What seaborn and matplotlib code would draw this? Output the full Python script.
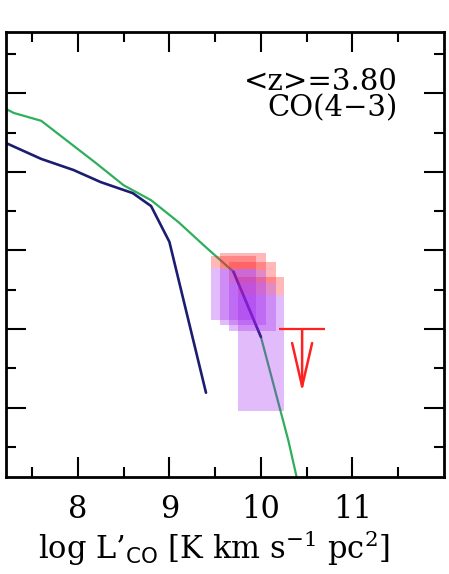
import numpy as np
import pandas as pd
import matplotlib
matplotlib.use("Agg")
import matplotlib.pyplot as plt
import seaborn as sns

# ---- data ----
green_x = [7.0, 7.3, 7.6, 7.9, 8.2, 8.5, 8.8, 9.1, 9.4, 9.7, 10.0, 10.3, 10.6]
green_y = [-1.07, -1.25, -1.35, -1.62, -1.89, -2.17, -2.36, -2.64, -2.96, -3.27, -4.10, -5.42, -6.96]

navy_x = [7.2, 7.6, 7.95, 8.25, 8.6, 8.8, 9.0, 9.4]
navy_y = [-1.625, -1.835, -1.975, -2.13, -2.27, -2.435, -2.89, -4.81]

navy2_x = [9.7, 10.0]
navy2_y = [-3.27, -4.10]

box_x_lo = [9.45, 9.55, 9.65, 9.75]
box_x_hi = [9.95, 10.06, 10.16, 10.25]
red_top = [-3.07, -3.03, -3.15, -3.34]
red_bot = [-3.22, -3.25, -3.41, -3.57]
purple_bot = [-3.88, -3.95, -4.02, -5.04]

lim_x = 10.45
lim_xerr = 0.255
lim_y = -4.0
lim_arrow_to = -4.80

x_major = [8, 9, 10, 11]
x_major_labels = ["8", "9", "10", "11"]

label_text = "<z>=3.80\nCO(4\u22123)"

# ---- style ----
sns.set_theme(style="ticks")
plt.rcParams["font.family"] = ["DejaVu Serif"]
plt.rcParams["mathtext.fontset"] = "dejavuserif"
plt.rcParams["text.color"] = "black"
plt.rcParams["axes.labelcolor"] = "black"
plt.rcParams["xtick.color"] = "black"
plt.rcParams["ytick.color"] = "black"

fig = plt.figure(figsize=(4.49, 5.74), dpi=100)
ax = fig.add_axes([6/449, 97/574, 438/449, 445/574])

GREEN = "#2fae5c"
NAVY = "#1c1c70"
RED = "#ff2020"
PURPLE = "#a020f0"

df_g = pd.DataFrame({"x": green_x, "y": green_y})
df_n = pd.DataFrame({"x": navy_x, "y": navy_y})
df_n2 = pd.DataFrame({"x": navy2_x, "y": navy2_y})

sns.lineplot(data=df_g, x="x", y="y", ax=ax, color=GREEN, lw=1.6,
             sort=False, estimator=None, zorder=2)
sns.lineplot(data=df_n, x="x", y="y", ax=ax, color=NAVY, lw=1.9,
             sort=False, estimator=None, zorder=2)
sns.lineplot(data=df_n2, x="x", y="y", ax=ax, color=NAVY, lw=1.9,
             sort=False, estimator=None, zorder=2)

lo = np.array(box_x_lo); hi = np.array(box_x_hi)
rt = np.array(red_top); rb = np.array(red_bot); pb = np.array(purple_bot)
ax.bar((lo + hi) / 2, rt - rb, width=hi - lo, bottom=rb, color=RED,
       alpha=0.32, linewidth=0, zorder=3)
ax.bar((lo + hi) / 2, rb - pb, width=hi - lo, bottom=pb, color=PURPLE,
       alpha=0.30, linewidth=0, zorder=3)

# upper limit
ax.plot([lim_x - lim_xerr, lim_x + lim_xerr], [lim_y, lim_y], color=RED,
        lw=1.6, zorder=4, solid_capstyle="butt")
ax.annotate("", xy=(lim_x, lim_arrow_to), xytext=(lim_x, lim_y),
            arrowprops=dict(arrowstyle="->,head_length=2.6,head_width=0.6",
                            color=RED, lw=1.8, shrinkA=0, shrinkB=0),
            zorder=4)

ax.set_xlim(7.215, 12.0)
ax.set_ylim(-5.882, -0.22)

ax.set_xticks(x_major)
ax.set_xticklabels(x_major_labels)
ax.set_xticks(np.arange(7.5, 12.0, 1.0), minor=True)
ax.set_yticks(np.arange(-5, -0.5, 1.0))
ax.set_yticks(np.arange(-5.5, 0.0, 1.0), minor=True)
ax.set_yticklabels([])

ax.tick_params(which="both", direction="in", top=True, right=True,
               width=1.5, colors="black", labelcolor="black",
               labelsize=22, pad=12)
ax.tick_params(which="major", length=14.4)
ax.tick_params(which="minor", length=7.2)
for s in ax.spines.values():
    s.set_linewidth(2.0)
    s.set_color("black")

ax.set_ylabel("")
ax.set_xlabel("log L\u2019$_{\\mathsf{CO}}$ [K km s$^{-1}$ pc$^{2}$]",
              fontsize=22, color="black")
ax.xaxis.set_label_coords(0.475, -0.115)

ax.text(0.895, 0.918, label_text, transform=ax.transAxes, ha="right",
        va="top", fontsize=21, linespacing=0.92, multialignment="right",
        color="black")

fig.savefig("out.png", dpi=100)
